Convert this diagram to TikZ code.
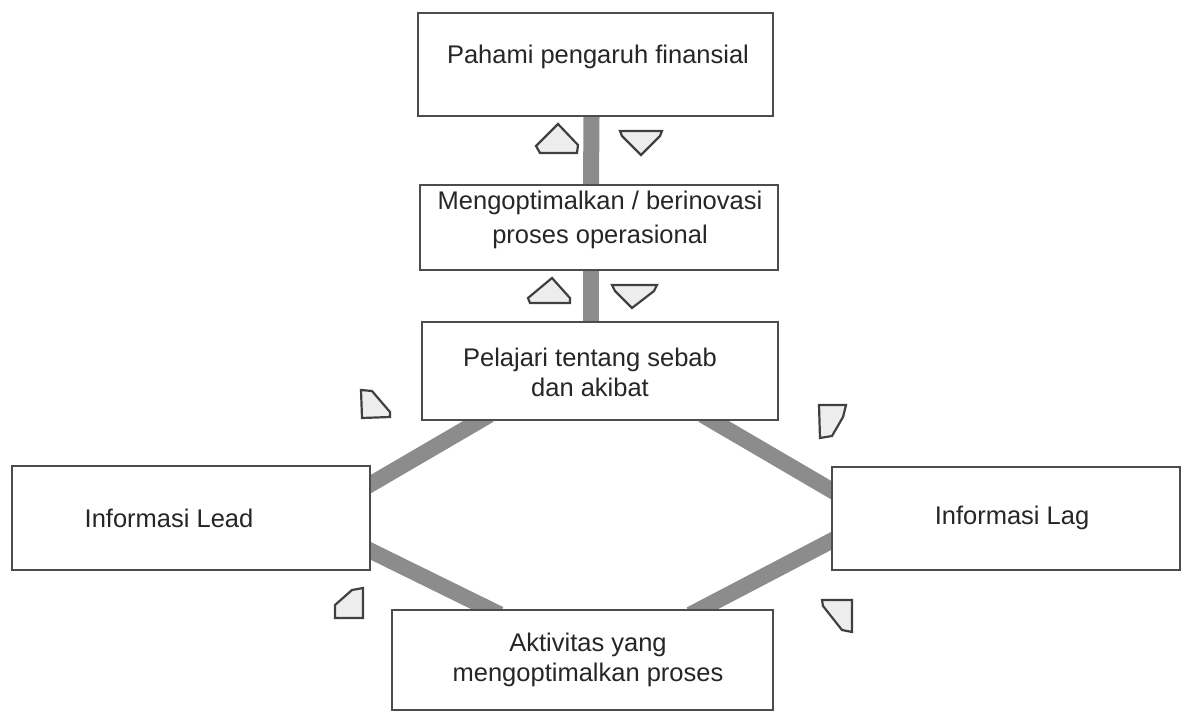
\documentclass[tikz,border=0pt]{standalone}
\usepackage{fontspec}
\setmainfont{Liberation Sans}
\pgfdeclarelayer{bg}
\pgfsetlayers{bg,main}
\begin{document}
\begin{tikzpicture}[x=1pt,y=-1pt,
  box/.style={draw=black!70, line width=2pt, fill=white, rectangle, inner sep=0pt},
  lbl/.style={font=\fontsize{25.5}{32}\selectfont, text=black!85, align=center, inner sep=0pt},
  bar/.style={draw=black!45, line width=16pt, shorten <=-12pt, shorten >=-12pt},
  flow/.style={draw=black!75, line width=2.2pt, fill=black!7, line join=miter}]
\useasboundingbox (0,0) rectangle (1184,715);

% boxes
\node[box, minimum width=355pt, minimum height=103pt] (b1) at (595.5,64.5) {};
\node[box, minimum width=358pt, minimum height=85pt]  (b2) at (599,227.5) {};
\node[box, minimum width=356pt, minimum height=98pt]  (b3) at (600,371) {};
\node[box, minimum width=358pt, minimum height=104pt] (lead) at (191,518) {};
\node[box, minimum width=348pt, minimum height=103pt] (lag) at (1006,518.5) {};
\node[box, minimum width=381pt, minimum height=100pt] (act) at (582.5,660) {};

% connecting bars, kept behind the boxes
\begin{pgfonlayer}{bg}
  \draw[bar] ([xshift=-4pt]b1.south) -- ([xshift=-8pt]b2.north);
  \draw[bar] ([xshift=-8pt]b2.south) -- ([xshift=-9pt]b3.north);
  \draw[bar] ([xshift=58pt]b3.south west) -- ([yshift=-19pt]lead.north east);
  \draw[bar] ([xshift=-66pt]b3.south east) -- ([yshift=-24pt]lag.north west);
  \draw[bar] ([yshift=20pt]lead.south east) -- ([xshift=98pt]act.north west);
  \draw[bar] ([yshift=30pt]lag.south west) -- ([xshift=-73pt]act.north east);
\end{pgfonlayer}

% labels
\node[lbl] (t1) at (598,57) {Pahami pengaruh finansial};
\node[lbl] (t2) at (600,220) {Mengoptimalkan / berinovasi\\[2pt]proses operasional};
\node[lbl] (t3) at (590,372) {Pelajari tentang sebab\\[-2pt]dan akibat};
\node[lbl] (t4) at (169,518) {Informasi Lead};
\node[lbl] (t5) at (1012,518) {Informasi Lag};
\node[lbl] (t6) at (588,660) {Aktivitas yang\\[-2pt]mengoptimalkan proses};

% flow markers
\draw[flow] (540,153) -- (536,146) -- (558,124) -- (578,145) -- (577,153) -- cycle;
\draw[flow] (620,131) -- (662,131) -- (660,136) -- (641,155) -- (622,136) -- cycle;
\draw[flow] (530,303) -- (528,298) -- (552,278) -- (570,298) -- (570,303) -- cycle;
\draw[flow] (612,285) -- (657,285) -- (654,291) -- (632,308) -- (615,291) -- cycle;
\draw[flow] (361,390) -- (372,391) -- (390,412) -- (390,417) -- (362,418) -- cycle;
\draw[flow] (819,405) -- (846,405) -- (843,417) -- (832,436) -- (820,438) -- cycle;
\draw[flow] (335,605) -- (352,590) -- (363,588) -- (363,618) -- (335,618) -- cycle;
\draw[flow] (822,600) -- (852,600) -- (852,632) -- (842,630) -- (823,606) -- cycle;
\end{tikzpicture}
\end{document}
